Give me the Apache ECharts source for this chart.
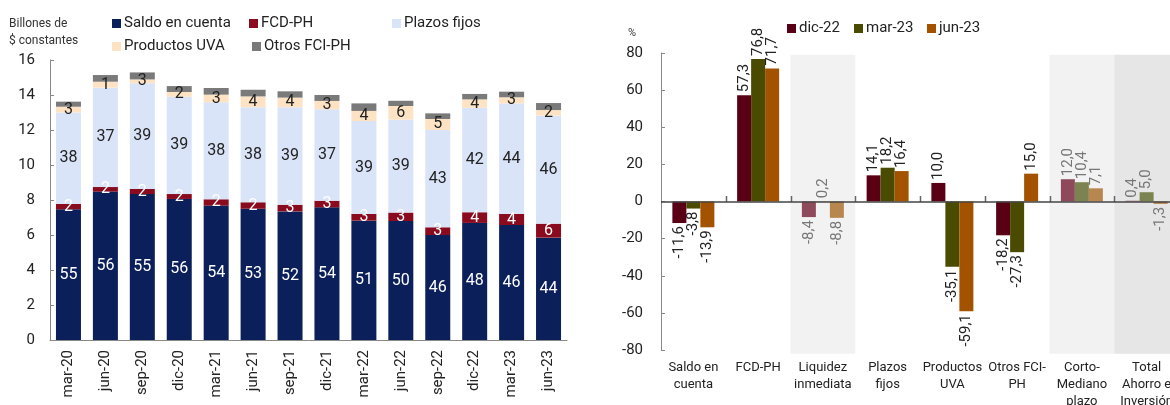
<!DOCTYPE html>
<html>
<head>
<meta charset="utf-8">
<script src="https://cdn.jsdelivr.net/npm/echarts@6/dist/echarts.min.js"></script>
<style>
  html, body { margin: 0; padding: 0; background: #fff; }
  #chart { width: 1170px; height: 405px; }
</style>
</head>
<body>
<div id="chart"></div>
<script>
// panel izquierdo: billones de $ constantes por trimestre
const quarters = ["mar-20", "jun-20", "sep-20", "dic-20", "mar-21", "jun-21", "sep-21",
  "dic-21", "mar-22", "jun-22", "sep-22", "dic-22", "mar-23", "jun-23"];
const saldo = [7.47, 8.48, 8.34, 8.06, 7.68, 7.50, 7.35, 7.58, 6.82, 6.80, 6.00, 6.69, 6.57, 5.85];
const fcd = [0.30, 0.26, 0.29, 0.28, 0.36, 0.37, 0.38, 0.38, 0.38, 0.48, 0.44, 0.61, 0.63, 0.80];
const plazos = [5.23, 5.68, 6.04, 5.56, 5.54, 5.43, 5.57, 5.22, 5.31, 5.31, 5.56, 5.97, 6.32, 6.17];
const uva = [0.33, 0.34, 0.22, 0.27, 0.44, 0.62, 0.55, 0.48, 0.58, 0.78, 0.63, 0.48, 0.35, 0.32];
const otros = [0.29, 0.38, 0.40, 0.34, 0.38, 0.38, 0.36, 0.34, 0.43, 0.30, 0.32, 0.31, 0.32, 0.40];
// participaciones (%) que se muestran como etiquetas
const saldoShare = [55, 56, 55, 56, 54, 53, 52, 54, 51, 50, 46, 48, 46, 44];
const fcdShare = [2, 2, 2, 2, 2, 2, 3, 3, 3, 3, 3, 4, 4, 6];
const plazosShare = [38, 37, 39, 39, 38, 38, 39, 37, 39, 39, 43, 42, 44, 46];
const uvaShare = [3, 1, 3, 2, 3, 4, 4, 3, 4, 6, 5, 4, 3, 2];

// panel derecho: variación %
const products = ["Saldo en\ncuenta", "FCD-PH", "Liquidez\ninmediata", "Plazos\nfijos",
  "Productos\nUVA", "Otros FCI-\nPH", "Corto-\nMediano\nplazo", "Total\nAhorro e\nInversión"];
const dic22 = [-11.6, 57.3, -8.4, 14.1, 10.0, -18.2, 12.0, 0.4];
const mar23 = [-3.8, 76.8, 0.2, 18.2, -35.1, -27.3, 10.4, 5.0];
const jun23 = [-13.9, 71.7, -8.8, 16.4, -59.1, 15.0, 7.1, -1.3];
// categorías agregadas (fondo gris, barras claras)
const aggregated = [2, 6, 7];

const font = "Roboto, 'Liberation Sans', sans-serif";
const chart = echarts.init(document.getElementById("chart"), null, { renderer: "canvas" });

const leftColors = {
  saldo: "#0b1f5a",
  fcd: "#8a0a1e",
  plazos: "#dae4f8",
  uva: "#fde3c4",
  otros: "#7a7a7a",
};

// serie apilada del panel izquierdo
const stackSeries = (name, data, color, shares, labelColor) => ({
  name,
  type: "bar",
  stack: "total",
  xAxisIndex: 0,
  yAxisIndex: 0,
  barWidth: 25,
  data,
  itemStyle: { color },
  label: {
    show: !!shares,
    position: "inside",
    color: labelColor,
    fontFamily: font,
    fontSize: 16,
    formatter: (p) => (shares ? shares[p.dataIndex] : ""),
  },
});

const fmt = (v) => v.toFixed(1).replace(".", ",");

// serie del panel derecho, colores claros en las categorías agregadas
const changeSeries = (name, data, dark, light) => ({
  name,
  type: "bar",
  xAxisIndex: 1,
  yAxisIndex: 1,
  barWidth: 14,
  barGap: 0,
  z: 3,
  itemStyle: { color: dark },
  data: data.map((v, i) => {
    const agg = aggregated.includes(i);
    return {
      value: v,
      itemStyle: { color: agg ? light : dark },
      label: {
        show: true,
        position: v >= 0 ? "top" : "bottom",
        rotate: 90,
        align: v >= 0 ? "left" : "right",
        verticalAlign: "middle",
        distance: 3,
        color: agg ? "#777" : "#222",
        fontFamily: font,
        fontSize: 15,
        formatter: () => fmt(v),
      },
    };
  }),
});

// franjas grises detrás de las categorías agregadas
const shadeData = aggregated.map((i) => ({
  value: [i, 79, -82],
  itemStyle: { color: i === 7 ? "#e6e6e6" : "#f2f2f2" },
}));

// marcas entre categorías sobre la línea del cero
const tickData = products.slice(0, -1).map((_, i) => [i, 0]);

const legendItem = (name, left, top) => ({
  data: [name],
  left,
  top,
  icon: "rect",
  itemWidth: 9,
  itemHeight: 9,
  itemGap: 0,
  textStyle: { fontFamily: font, fontSize: 15, color: "#222", padding: [0, 0, 0, -2] },
  selectedMode: false,
});

const series = [
  stackSeries("Saldo en cuenta", saldo, leftColors.saldo, saldoShare, "#fff"),
  stackSeries("FCD-PH", fcd, leftColors.fcd, fcdShare, "#fff"),
  stackSeries("Plazos fijos", plazos, leftColors.plazos, plazosShare, "#222"),
  stackSeries("Productos UVA", uva, leftColors.uva, uvaShare, "#222"),
  stackSeries("Otros FCI-PH", otros, leftColors.otros, null, "#222"),
  {
    type: "custom",
    xAxisIndex: 1,
    yAxisIndex: 1,
    silent: true,
    z: 0,
    encode: { x: 0, y: [1, 2] },
    data: shadeData,
    renderItem: (params, api) => {
      const top = api.coord([api.value(0), api.value(1)]);
      const bottom = api.coord([api.value(0), api.value(2)]);
      const w = api.size([1, 0])[0];
      return {
        type: "rect",
        shape: { x: top[0] - w / 2, y: top[1], width: w, height: bottom[1] - top[1] },
        style: { fill: api.visual("color") },
      };
    },
  },
  {
    type: "custom",
    xAxisIndex: 1,
    yAxisIndex: 1,
    silent: true,
    z: 4,
    encode: { x: 0, y: 1 },
    data: tickData,
    renderItem: (params, api) => {
      const p = api.coord([api.value(0), 0]);
      const x = Math.round(p[0] + api.size([1, 0])[0] / 2) + 0.5;
      const y = Math.round(p[1]);
      return {
        type: "line",
        shape: { x1: x, y1: y, x2: x, y2: y - 6 },
        style: { stroke: "#666", lineWidth: 1.5 },
      };
    },
  },
  changeSeries("dic-22", dic22, "#5a0014", "#8e4a5a"),
  changeSeries("mar-23", mar23, "#4a4a00", "#7b8450"),
  changeSeries("jun-23", jun23, "#a35200", "#b8864f"),
];

// línea del cero
series[7].markLine = {
  silent: true,
  symbol: "none",
  z: 5,
  label: { show: false },
  lineStyle: { color: "#444", type: "solid", width: 1.5 },
  data: [{ yAxis: 0 }],
};

const option = {
  animation: false,
  backgroundColor: "#fff",
  textStyle: { fontFamily: font },
  legend: [
    legendItem("Saldo en cuenta", 107, 11),
    legendItem("FCD-PH", 244, 11),
    legendItem("Plazos fijos", 387, 11),
    legendItem("Productos UVA", 107, 34),
    legendItem("Otros FCI-PH", 247, 34),
    legendItem("dic-22", 782, 16),
    legendItem("mar-23", 849, 16),
    legendItem("jun-23", 922, 16),
  ],
  graphic: [
    { type: "text", left: 9, top: 18, style: { text: "Billones de", font: "12px " + font, fill: "#333" } },
    { type: "text", left: 9, top: 35, style: { text: "$ constantes", font: "12px " + font, fill: "#333" } },
    { type: "text", left: 628, top: 28, style: { text: "%", font: "11px " + font, fill: "#333" } },
  ],
  grid: [
    { left: 50, right: 603, top: 60, bottom: 65, outerBoundsMode: "none" },
    { left: 661, right: -9, top: 53, bottom: 55, outerBoundsMode: "none" },
  ],
  xAxis: [
    {
      gridIndex: 0,
      type: "category",
      data: quarters,
      axisLine: { lineStyle: { color: "#888" } },
      axisTick: { inside: true, length: 4, lineStyle: { color: "#888" } },
      axisLabel: { rotate: 90, margin: 10, fontSize: 15, color: "#222", fontFamily: font },
    },
    {
      gridIndex: 1,
      type: "category",
      data: products,
      axisLine: { show: false, onZero: false },
      axisTick: { show: false },
      axisLabel: { show: true, margin: 9, fontSize: 13, lineHeight: 17, color: "#222", fontFamily: font, interval: 0 },
    },
  ],
  yAxis: [
    {
      gridIndex: 0,
      type: "value",
      min: 0,
      max: 16,
      interval: 2,
      splitLine: { show: false },
      axisLine: { show: true, lineStyle: { color: "#888" } },
      axisTick: { show: true, inside: true, length: 4, lineStyle: { color: "#888" } },
      axisLabel: { margin: 15, fontSize: 15, color: "#222", fontFamily: font },
    },
    {
      gridIndex: 1,
      type: "value",
      min: -80,
      max: 80,
      interval: 20,
      splitLine: { show: false },
      axisLine: { show: true, lineStyle: { color: "#888" } },
      axisTick: { show: true, inside: true, length: 4, lineStyle: { color: "#888" } },
      axisLabel: { margin: 18, fontSize: 15, color: "#222", fontFamily: font },
    },
  ],
  series,
};

chart.setOption(option);
</script>
</body>
</html>
